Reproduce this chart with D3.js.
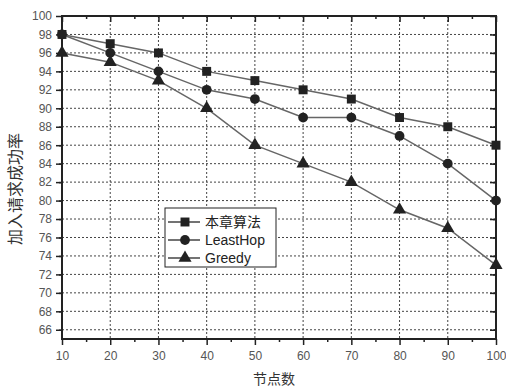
<!DOCTYPE html>
<html><head><meta charset="utf-8">
<script src="https://cdn.jsdelivr.net/npm/d3@7"></script>
<style>body{margin:0;background:#fff;} svg{display:block;}</style>
</head><body>
<svg id="c" width="506" height="387"></svg>
<script>
const xValues = [10,20,30,40,50,60,70,80,90,100];
const seriesNames = ["本章算法","LeastHop","Greedy"];
const oursValues = [98,97,96,94,93,92,91,89,88,86];
const leastHopValues = [98,96,94,92,91,89,89,87,84,80];
const greedyValues = [96,95,93,90,86,84,82,79,77,73];
const xTicks = [10,20,30,40,50,60,70,80,90,100];
const yTicks = [66,68,70,72,74,76,78,80,82,84,86,88,90,92,94,96,98,100];
const xLabel = "节点数";
const yLabel = "加入请求成功率";

const svg = d3.select("#c");
const L=62, R=496, T=16, B=339;
const x = d3.scaleLinear().domain([10,100]).range([L,R]);
const y = d3.scaleLinear().domain([65,100]).range([B,T]);
const font = "Liberation Sans, Arial, sans-serif";

// grid
const g = svg.append("g");
g.selectAll(".gy").data(yTicks.filter(v=>v<100)).enter().append("line")
  .attr("x1",L).attr("x2",R).attr("y1",d=>y(d)).attr("y2",d=>y(d))
  .attr("stroke","#444").attr("stroke-width",1).attr("stroke-dasharray","2,2");
g.selectAll(".gx").data(xTicks.filter(v=>v>10&&v<100)).enter().append("line")
  .attr("y1",T).attr("y2",B).attr("x1",d=>x(d)).attr("x2",d=>x(d))
  .attr("stroke","#444").attr("stroke-width",1).attr("stroke-dasharray","2,2");

// axes
const minorX = d3.range(15,100,10);
const minorY = d3.range(65,100,2).map(v=>v+1).filter(v=>v<100);
const axB = d3.axisBottom(x).tickValues(xTicks).tickSize(6).tickFormat(d3.format("d"));
const axL = d3.axisLeft(y).tickValues(yTicks).tickSize(6).tickFormat(d3.format("d"));
const bAx = svg.append("g").attr("transform",`translate(0,${B})`).call(axB);
const lAx = svg.append("g").attr("transform",`translate(${L},0)`).call(axL);
svg.append("g").attr("transform",`translate(0,${B})`).call(d3.axisBottom(x).tickValues(minorX).tickSize(3).tickFormat(""));
svg.append("g").attr("transform",`translate(${L},0)`).call(d3.axisLeft(y).tickValues(minorY).tickSize(3).tickFormat(""));
svg.append("g").attr("transform",`translate(0,${T})`).call(d3.axisBottom(x).tickValues(xTicks).tickSize(6).tickFormat(""));
svg.append("g").attr("transform",`translate(0,${T})`).call(d3.axisBottom(x).tickValues(minorX).tickSize(3).tickFormat(""));
svg.append("g").attr("transform",`translate(${R},0)`).call(d3.axisLeft(y).tickValues(yTicks).tickSize(6).tickFormat(""));
svg.append("g").attr("transform",`translate(${R},0)`).call(d3.axisLeft(y).tickValues(minorY).tickSize(3).tickFormat(""));
svg.selectAll(".domain").remove();
svg.selectAll(".tick line").attr("stroke","#222").attr("stroke-width",1.5);
bAx.selectAll("text").attr("font-family",font).attr("font-size",12).attr("fill","#555").attr("dy","1.0em");
lAx.selectAll("text").attr("font-family",font).attr("font-size",12).attr("fill","#555").attr("dx","-1");
svg.append("rect").attr("x",L).attr("y",T).attr("width",R-L).attr("height",B-T)
  .attr("fill","none").attr("stroke","#222").attr("stroke-width",2);

// series
const series = [
  {name:seriesNames[0], vals:oursValues, sym:d3.symbolSquare, size:80},
  {name:seriesNames[1], vals:leastHopValues, sym:d3.symbolCircle, size:75},
  {name:seriesNames[2], vals:greedyValues, sym:d3.symbolTriangle, size:75}
];
const line = d3.line().x(d=>x(d[0])).y(d=>y(d[1]));
series.forEach(s=>{
  const pts = xValues.map((v,i)=>[v,s.vals[i]]);
  svg.append("path").attr("d",line(pts)).attr("fill","none").attr("stroke","#666").attr("stroke-width",1.5);
  svg.selectAll(null).data(pts).enter().append("path")
    .attr("d",d3.symbol().type(s.sym).size(s.size))
    .attr("transform",d=>`translate(${x(d[0])},${y(d[1])})`)
    .attr("fill","#222");
});

// legend
const lg = svg.append("g");
lg.append("rect").attr("x",165).attr("y",208).attr("width",111).attr("height",59)
  .attr("fill","#fff").attr("stroke","#222").attr("stroke-width",1);
series.forEach((s,i)=>{
  const yy = 222 + i*18;
  lg.append("line").attr("x1",168).attr("x2",200).attr("y1",yy).attr("y2",yy).attr("stroke","#444").attr("stroke-width",1.5);
  lg.append("path").attr("d",d3.symbol().type(s.sym).size(s.size)).attr("transform",`translate(185,${yy})`).attr("fill","#222");
  lg.append("text").attr("x",205).attr("y",yy).attr("dy","0.36em").attr("font-family", i===0?"Noto Sans CJK SC, sans-serif":font)
    .attr("font-size",14).attr("fill","#222").text(s.name);
});

// labels
svg.append("text").attr("x",274).attr("y",379).attr("text-anchor","middle").attr("dy","0.35em")
  .attr("font-family","Noto Sans CJK SC, sans-serif").attr("font-size",14).attr("fill","#333").text(xLabel);
svg.append("text").attr("transform",`translate(15,189) rotate(-90)`).attr("text-anchor","middle")
  .attr("dy","0.35em").attr("font-family","Noto Sans CJK SC, sans-serif").attr("font-size",16).attr("fill","#333").text(yLabel);
</script>
</body></html>
